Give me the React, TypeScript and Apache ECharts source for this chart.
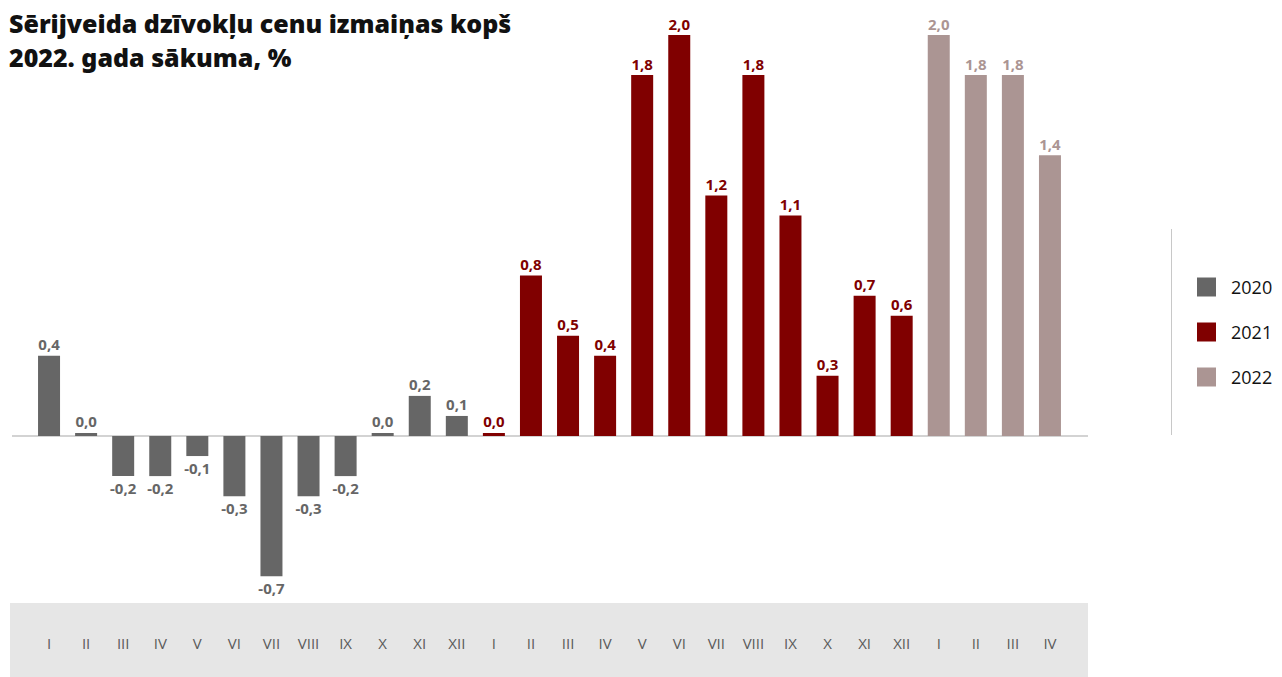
import React, { useEffect, useRef } from "react";
import * as echarts from "echarts";

const months2020 = ["I", "II", "III", "IV", "V", "VI", "VII", "VIII", "IX", "X", "XI", "XII"];
const months2021 = ["I", "II", "III", "IV", "V", "VI", "VII", "VIII", "IX", "X", "XI", "XII"];
const months2022 = ["I", "II", "III", "IV"];
const categories = [...months2020, ...months2021, ...months2022];

const values2020 = [0.4, 0.015, -0.2, -0.2, -0.1, -0.3, -0.7, -0.3, -0.2, 0.015, 0.2, 0.1];
const values2021 = [0.015, 0.8, 0.5, 0.4, 1.8, 2.0, 1.2, 1.8, 1.1, 0.3, 0.7, 0.6];
const values2022 = [2.0, 1.8, 1.8, 1.4];

const seriesNames = ["2020", "2021", "2022"];
const seriesColors = ["#666666", "#800000", "#ab9593"];

const fmt = (v: number) => v.toFixed(1).replace(".", ",").replace("-0,0", "0,0");

function buildData(values: number[], offset: number, color: string) {
  const arr: any[] = categories.map(() => null);
  values.forEach((v, i) => {
    arr[offset + i] = {
      value: v,
      label: {
        show: true,
        position: v < 0 ? "bottom" : "top",
        color,
        fontWeight: "bold",
        fontSize: 15,
        fontFamily: "Noto Sans",
        distance: 4,
        formatter: () => fmt(v),
      },
    };
  });
  return arr;
}

export default function App() {
  const ref = useRef<HTMLDivElement>(null);
  useEffect(() => {
    document.body.style.margin = "0";
    const chart = echarts.init(ref.current!, undefined, { renderer: "svg" });
    const groups = [values2020, values2021, values2022];
    let off = 0;
    const series = groups.map((vals, k) => {
      const s = {
        name: seriesNames[k],
        type: "bar",
        barWidth: 22,
        barGap: "-100%",
        itemStyle: { color: seriesColors[k] },
        data: buildData(vals, off, seriesColors[k]),
      };
      off += vals.length;
      return s;
    });
    chart.setOption({
      animation: false,
      grid: { left: 30.5, right: 213.5, top: 35, bottom: 80.6, containLabel: false },
      title: {
        text: "Sērijveida dzīvokļu cenu izmaiņas kopš\n2022. gada sākuma, %",
        left: 9,
        top: 6,
        padding: 0,
        textStyle: {
          fontFamily: "Noto Sans",
          fontWeight: 900,
          fontSize: 25,
          lineHeight: 34,
          color: "#111111",
        },
      },
      legend: {
        orient: "vertical",
        left: 1197,
        top: 277.5,
        padding: 0,
        itemWidth: 19,
        itemHeight: 19,
        itemGap: 26,
        icon: "rect",
        data: seriesNames,
        textStyle: { fontFamily: "Open Sans", fontSize: 18, color: "#111111", padding: [0, 0, 0, 10] },
      },
      xAxis: {
        type: "category",
        data: categories,
        axisLine: { show: false, onZero: false },
        axisTick: { show: false },
        axisLabel: { margin: 39, color: "#5a5a5a", fontFamily: "Open Sans", fontSize: 15, interval: 0 },
      },
      yAxis: {
        type: "value",
        min: -0.8,
        max: 2.0,
        show: false,
        splitLine: { show: false },
      },
      series,
    });
    const y0 = chart.convertToPixel({ yAxisIndex: 0 }, 0) as number;
    chart.setOption({
      graphic: [
        {
          type: "rect",
          z: -10,
          shape: { x: 10, y: 603, width: 1078, height: 74 },
          style: { fill: "#e6e6e6" },
        },
        {
          type: "line",
          z: -5,
          shape: { x1: 12, y1: y0, x2: 1088, y2: y0 },
          style: { stroke: "#d3d3d3", lineWidth: 2 },
        },
        {
          type: "line",
          shape: { x1: 1171.5, y1: 229, x2: 1171.5, y2: 435 },
          style: { stroke: "#c8c8c8", lineWidth: 1 },
        },
      ],
    });
    return () => chart.dispose();
  }, []);
  return <div ref={ref} style={{ width: 1282, height: 677 }} />;
}
